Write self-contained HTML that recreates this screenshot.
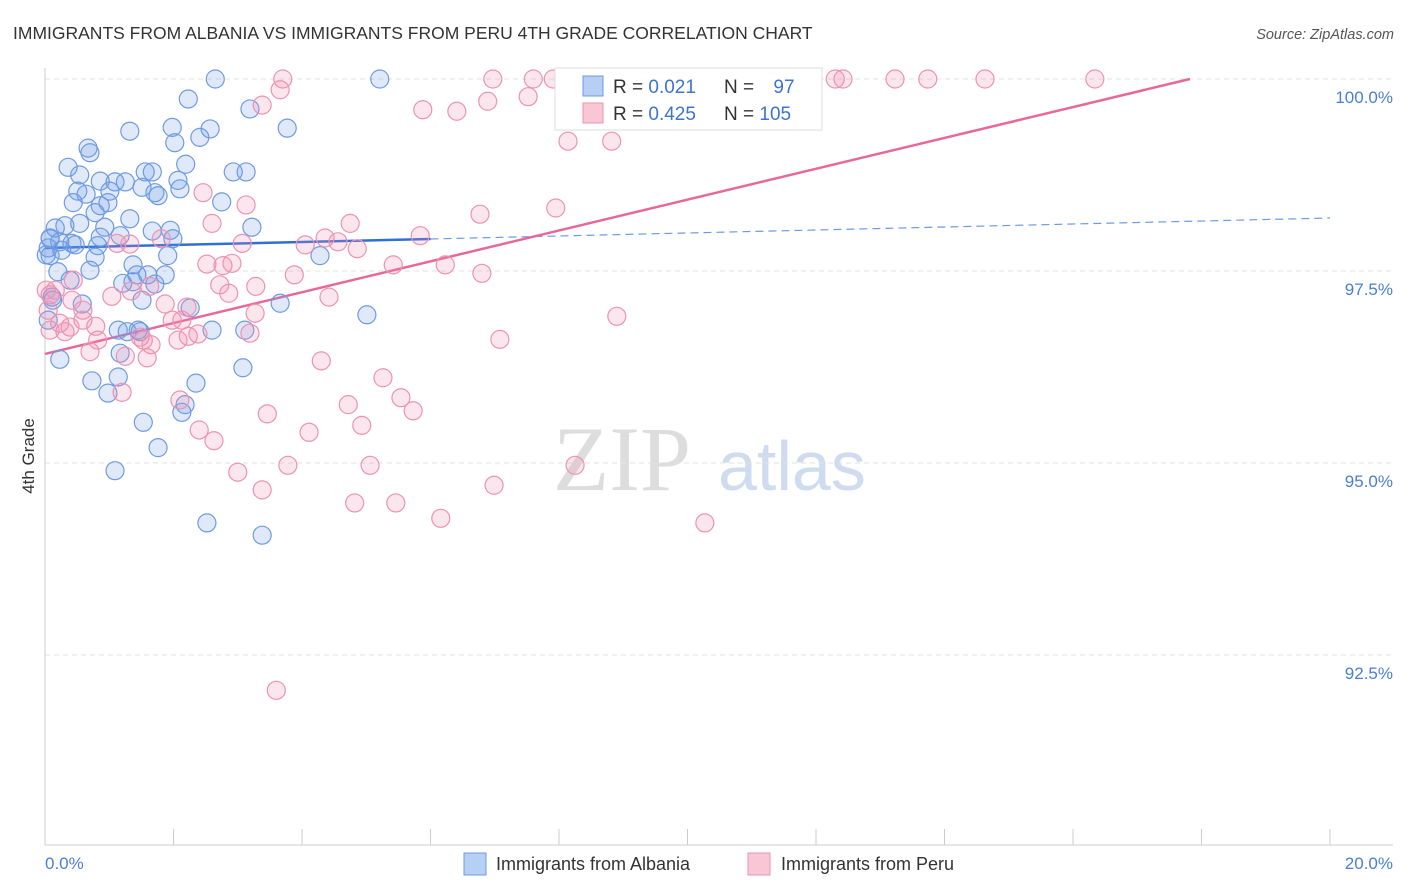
<!DOCTYPE html>
<html><head><meta charset="utf-8">
<style>
body{margin:0;background:#fff;font-family:"Liberation Sans",sans-serif;}
svg{display:block}
</style></head>
<body>
<svg id="chart" width="1406" height="892" xmlns="http://www.w3.org/2000/svg">
<text x="13" y="39" font-size="17.5" fill="#333">IMMIGRANTS FROM ALBANIA VS IMMIGRANTS FROM PERU 4TH GRADE CORRELATION CHART</text>
<text x="1394" y="39" font-size="14.5" fill="#555" font-style="italic" text-anchor="end">Source: ZipAtlas.com</text>
<g>
<text x="553" y="490" font-family="Liberation Serif,serif" font-size="92" fill="#ddd">ZIP</text>
<text x="718" y="490" font-size="70" fill="#cfdcef">atlas</text>
</g>
<g id="grid"></g>
<g id="axes"></g>
<g id="trends"></g>
<g id="points"></g>
<text transform="translate(34,456) rotate(-90)" font-size="17" fill="#333" text-anchor="middle">4th Grade</text>
<text x="45" y="869" font-size="17" fill="#4a7fd4">0.0%</text>
<text x="1393" y="869" font-size="17" fill="#4a7fd4" text-anchor="end">20.0%</text>
<g>
<rect x="555" y="68" width="267" height="62" fill="#fff" stroke="#ddd"/>
<rect x="583" y="76" width="20" height="20" fill="#b6cff3" stroke="#6d9ae0"/>
<rect x="583" y="103" width="20" height="20" fill="#f9c6d6" stroke="#ec93b1"/>
<text x="613" y="93" font-size="19" fill="#333">R = <tspan fill="#3d74cf">0.021</tspan></text>
<text x="724" y="93" font-size="19" fill="#333">N = <tspan fill="#3d74cf" dx="14">97</tspan></text>
<text x="613" y="120" font-size="19" fill="#333">R = <tspan fill="#3d74cf">0.425</tspan></text>
<text x="724" y="120" font-size="19" fill="#333">N = <tspan fill="#3d74cf">105</tspan></text>
</g>
<g>
<rect x="464" y="853" width="22" height="22" fill="#b6cff3" stroke="#6d9ae0"/>
<text x="496" y="870" font-size="18" fill="#333">Immigrants from Albania</text>
<rect x="748" y="853" width="22" height="22" fill="#f9c6d6" stroke="#ec93b1"/>
<text x="781" y="870" font-size="18" fill="#333">Immigrants from Peru</text>
</g>
</svg>
<script>
const yTicks=[100,97.5,95,92.5];
const yTickLabels=["100.0%","97.5%","95.0%","92.5%"];
const xTicks=[0,2,4,6,8,10,12,14,16,18,20];
const albaniaX=[2.65,5.21,2.23,3.19,1.32,1.98,2.57,3.77,2.41,2.02,0.67,0.70,2.19,0.36,1.56,2.93,3.13,1.67,0.54,2.07,0.86,1.09,1.25,1.51,0.51,1.01,1.71,2.10,0.64,1.76,0.44,2.75,0.98,0.78,0.86,1.32,0.16,0.31,0.54,0.93,1.67,1.95,3.22,1.17,0.86,1.99,0.08,0.23,0.42,0.05,0.47,0.82,0.26,0.08,0.78,1.91,4.28,1.37,0.70,0.20,0.39,1.21,1.43,1.60,1.87,1.71,1.37,0.11,0.58,1.51,2.26,3.66,5.01,1.28,1.48,2.60,3.11,1.17,0.23,3.08,1.14,0.73,2.35,0.98,1.53,2.18,2.13,1.76,1.09,2.52,3.38,0.05,0.02,0.12,0.08,1.14,1.45];
const albaniaY=[100,100,99.74,99.61,99.32,99.37,99.35,99.36,99.24,99.17,99.10,99.04,98.89,98.85,98.79,98.79,98.79,98.79,98.75,98.68,98.67,98.66,98.66,98.59,98.54,98.54,98.52,98.57,98.50,98.48,98.39,98.40,98.39,98.26,98.35,98.18,98.06,98.09,98.12,98.07,98.02,98.03,98.07,97.96,97.94,97.92,97.92,97.88,97.86,97.80,97.84,97.83,97.77,97.70,97.68,97.70,97.70,97.58,97.51,97.49,97.38,97.34,97.45,97.45,97.45,97.33,97.36,97.16,97.07,97.12,97.02,97.08,96.93,96.71,96.71,96.73,96.73,96.43,96.35,96.24,96.12,96.07,96.04,95.91,95.53,95.76,95.66,95.20,94.90,94.22,94.06,96.86,97.71,97.12,97.93,96.73,96.73];
const peruX=[3.70,6.97,7.60,7.91,9.57,12.30,12.42,13.23,13.74,14.63,16.34,3.66,3.38,6.89,7.52,5.88,6.41,8.14,8.82,2.46,3.13,2.60,6.77,7.95,4.75,5.84,3.07,4.05,4.36,4.56,4.86,1.32,1.81,1.12,2.52,2.77,2.91,5.42,6.23,6.80,3.88,2.72,3.28,4.42,0.08,0.44,0.16,1.04,1.63,1.34,2.86,1.87,2.21,0.59,3.27,8.90,1.98,0.23,0.39,0.79,2.13,0.82,1.48,2.23,1.53,2.07,3.19,2.38,1.65,0.31,0.70,1.25,1.59,7.08,4.30,5.26,1.20,2.10,5.54,4.72,5.73,3.46,2.40,4.93,4.11,2.63,3.78,5.06,8.25,3.00,3.38,6.99,4.82,5.46,6.16,10.27,3.60,0.08,0.05,0.02,0.42,0.59];
const peruY=[100,100,100,100,100,100,100,100,100,100,100,99.86,99.66,99.71,99.77,99.60,99.58,99.19,99.19,98.52,98.36,98.12,98.24,98.32,98.12,97.96,97.86,97.84,97.93,97.88,97.79,97.85,97.92,97.86,97.59,97.57,97.60,97.58,97.58,97.47,97.45,97.32,97.30,97.16,97.19,97.38,97.25,97.17,97.30,97.24,97.21,97.07,97.03,96.99,96.95,96.91,96.86,96.82,96.77,96.78,96.86,96.60,96.64,96.65,96.60,96.60,96.69,96.68,96.54,96.71,96.45,96.39,96.37,96.61,96.33,96.11,95.92,95.82,95.85,95.76,95.68,95.64,95.43,95.49,95.40,95.29,94.97,94.97,94.97,94.88,94.65,94.71,94.48,94.48,94.28,94.22,92.04,96.73,96.99,97.25,97.12,96.86];
const albaniaTrend=[97.80,98.19]; // y at x=0 and x=20
const albaniaSolidEnd=6.0;
const peruTrend=[96.42,17.82]; // y at x=0, x where it reaches 100

const X0=45,X1=1330,Y100=79,PX_PER_PCT=76.8;
const sx=v=>X0+(v/20)*(X1-X0);
const sy=v=>Y100+(100-v)*PX_PER_PCT;
const NS="http://www.w3.org/2000/svg";
function mk(tag,attrs,parent){const e=document.createElementNS(NS,tag);for(const k in attrs)e.setAttribute(k,attrs[k]);parent.appendChild(e);return e;}
const grid=document.getElementById('grid'),axes=document.getElementById('axes'),trends=document.getElementById('trends'),pts=document.getElementById('points');
yTicks.forEach((t,i)=>{
 const l=mk('line',{x1:X0,x2:1393,y1:sy(t),y2:sy(t),stroke:'#e2e2e2','stroke-dasharray':'5,4'},grid);
 
 
 const tx=mk('text',{x:1393,y:sy(t)+24,'font-size':17,fill:'#4a7fd4','text-anchor':'end'},grid);
 tx.textContent=yTickLabels[i];
 
 
});
const ax=mk('line',{x1:X0,x2:1393,y1:845,y2:845,stroke:'#ccc'},axes);


const ay=mk('line',{x1:X0,x2:X0,y1:68,y2:845,stroke:'#ccc'},axes);


xTicks.forEach(t=>{
 const l=mk('line',{x1:sx(t),x2:sx(t),y1:829,y2:845,stroke:'#ccc'},axes);
 
 
});
function dots(xs,ys,fill,stroke,name){
 xs.forEach((x,i)=>{
  const c=mk('circle',{cx:sx(x),cy:sy(ys[i]),r:9,fill:fill,stroke:stroke,'stroke-width':1.2},pts);
  
  
 });
}
dots(albaniaX,albaniaY,'rgba(110,155,230,0.22)','#6e9be0','albania-point');
dots(peruX,peruY,'rgba(240,140,175,0.22)','#ec93b1','peru-point');
const by=x=>albaniaTrend[0]+(albaniaTrend[1]-albaniaTrend[0])*x/20;
const t1=mk('line',{x1:sx(0),y1:sy(by(0)),x2:sx(albaniaSolidEnd),y2:sy(by(albaniaSolidEnd)),stroke:'#2f6fd6','stroke-width':2.5},trends);


const t2=mk('line',{x1:sx(albaniaSolidEnd),y1:sy(by(albaniaSolidEnd)),x2:sx(20),y2:sy(by(20)),stroke:'#6e9be0','stroke-width':1.2,'stroke-dasharray':'8,5'},trends);


const t3=mk('line',{x1:sx(0),y1:sy(peruTrend[0]),x2:sx(peruTrend[1]),y2:sy(100),stroke:'#e8679a','stroke-width':2.5},trends);


</script>
</body></html>
